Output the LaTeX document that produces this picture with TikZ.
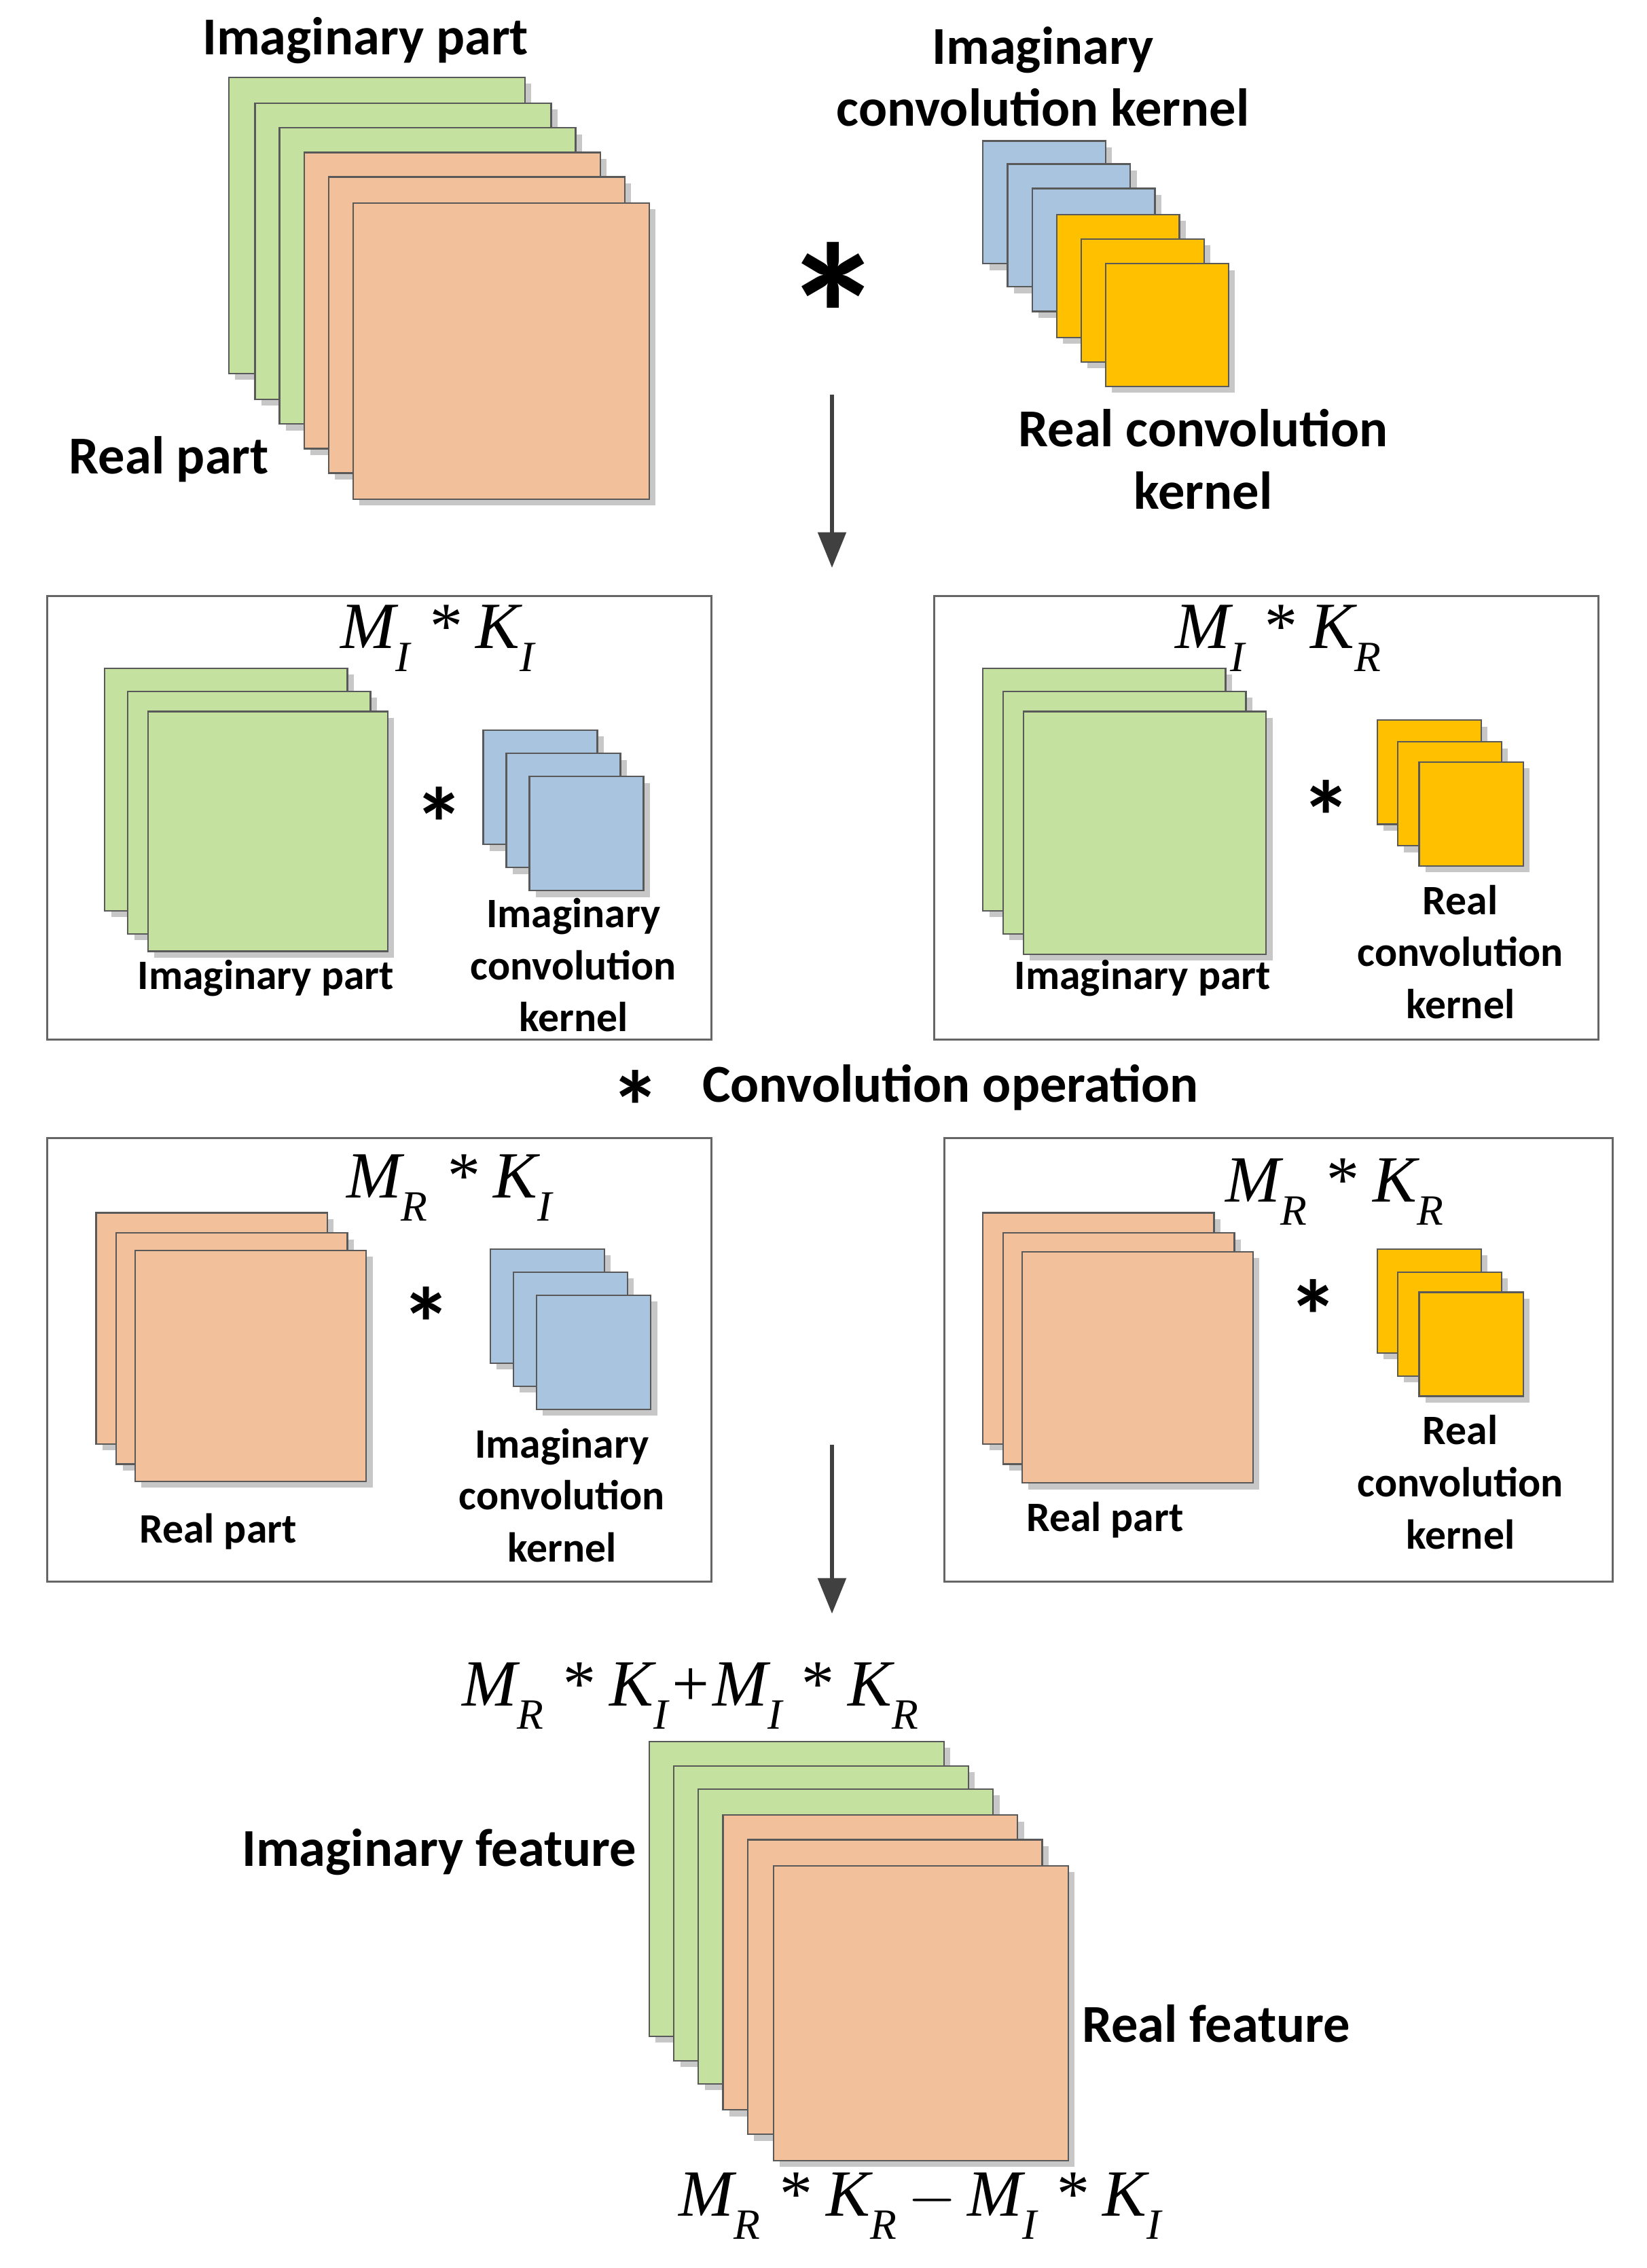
\documentclass[tikz,border=0pt]{standalone}
\usepackage{fontspec}
\setmainfont{Carlito}
\newfontfamily\mathf{Liberation Serif}
\usetikzlibrary{shadows,arrows.meta}
\definecolor{gr}{HTML}{C4E1A0}
\definecolor{orr}{HTML}{F2C09B}
\definecolor{bl}{HTML}{A8C4DE}
\definecolor{ye}{HTML}{FFC000}
\tikzset{
 sq/.style={draw=black!65, line width=0.6pt, anchor=north west, inner sep=0, minimum size=#1*0.02cm,
   drop shadow={shadow xshift=2.5pt,shadow yshift=-2.5pt,fill=black!22,opacity=1}},
 box/.style={draw=black!60, line width=0.8pt},
 lab/.style={font=\bfseries\fontsize{21}{24.5}\selectfont, align=center},
 slab/.style={font=\bfseries\fontsize{16.5}{20.5}\selectfont, align=center},
 mth/.style={font=\mathf\itshape\fontsize{26}{30}\selectfont},
 ast/.style={font=\bfseries\fontsize{40}{40}\selectfont},
 bigast/.style={font=\bfseries\fontsize{80}{80}\selectfont},
 arr/.style={line width=1.4pt, black!75, -{Triangle[length=14pt,width=11pt]}}
}
\newcommand{\sub}[1]{\raisebox{-0.35em}{\fontsize{17}{17}\selectfont #1}}
\begin{document}
\begin{tikzpicture}[x=0.02cm,y=-0.02cm]
\useasboundingbox (0,0) rectangle (1140,1570);
% top
\node[sq=205,fill=gr] (t1) at (158,53) {};
\node[sq=205,fill=gr] (t2) at (176,71) {};
\node[sq=205,fill=gr] (t3) at (193,88) {};
\node[sq=205,fill=orr] (t4) at (210,105) {};
\node[sq=205,fill=orr] (t5) at (227,122) {};
\node[sq=205,fill=orr] (t6) at (244,140) {};
\node[lab] (l1) at (253,28) {Imaginary part};
\node[lab] (l2) at (117,318) {Real part};
\node[bigast] (a0) at (577,218) {*};
\node[sq=85,fill=bl] (k1) at (680,97) {};
\node[sq=85,fill=bl] (k2) at (697,113) {};
\node[sq=85,fill=bl] (k3) at (714,130) {};
\node[sq=85,fill=ye] (k4) at (731,148) {};
\node[sq=85,fill=ye] (k5) at (748,165) {};
\node[sq=85,fill=ye] (k6) at (765,182) {};
\node[lab] (l3) at (722,53) {Imaginary\\convolution kernel};
\node[lab] (l4) at (833,318) {Real convolution\\kernel};
\coordinate (ar1) at (576,273); \coordinate (ar2) at (576,393);
\draw[arr] (ar1) -- (ar2);
% boxes
\node[box,anchor=north west,minimum width=460*0.02cm,minimum height=307*0.02cm] (b1) at (32,412) {};
\node[box,anchor=north west,minimum width=460*0.02cm,minimum height=307*0.02cm] (b2) at (646,412) {};
\node[box,anchor=north west,minimum width=460*0.02cm,minimum height=307*0.02cm] (b3) at (32,787) {};
\node[box,anchor=north west,minimum width=463*0.02cm,minimum height=307*0.02cm] (b4) at (653,787) {};
% box1
\node[sq=168,fill=gr] at (72,462) {};
\node[sq=168,fill=gr] at (88,478) {};
\node[sq=166,fill=gr] (g1) at (102,492) {};
\node[ast] (a1) at (304,570) {*};
\node[sq=79,fill=bl] at (334,505) {};
\node[sq=79,fill=bl] at (350,521) {};
\node[sq=79,fill=bl] at (366,537) {};
\node[mth] (m1) at (303,442) {M\sub{I} * K\sub{I}};
\node[slab] at (184,677) {Imaginary part};
\node[slab] at (397,668) {Imaginary\\convolution\\kernel};
% box2
\node[sq=168,fill=gr] at (680,462) {};
\node[sq=168,fill=gr] at (694,478) {};
\node[sq=168,fill=gr] at (708,492) {};
\node[ast] (a2) at (918,565) {*};
\node[sq=72,fill=ye] at (953,498) {};
\node[sq=72,fill=ye] at (967,513) {};
\node[sq=72,fill=ye] at (982,527) {};
\node[mth] (m2) at (885,442) {M\sub{I} * K\sub{R}};
\node[slab] at (791,677) {Imaginary part};
\node[slab] at (1011,659) {Real\\convolution\\kernel};
% legend
\node[ast] (a5) at (440,766) {*};
\node[lab,anchor=west] (leg) at (480,753) {Convolution operation};
% box3
\node[sq=160,fill=orr] at (66,839) {};
\node[sq=160,fill=orr] at (80,853) {};
\node[sq=160,fill=orr] at (93,865) {};
\node[ast] (a3) at (295,916) {*};
\node[sq=79,fill=bl] at (339,864) {};
\node[sq=79,fill=bl] at (355,880) {};
\node[sq=79,fill=bl] at (371,896) {};
\node[mth] (m3) at (311,822) {M\sub{R} * K\sub{I}};
\node[slab] at (151,1060) {Real part};
\node[slab] at (389,1035) {Imaginary\\convolution\\kernel};
% box4
\node[sq=160,fill=orr] at (680,839) {};
\node[sq=160,fill=orr] at (694,853) {};
\node[sq=160,fill=orr] at (707,866) {};
\node[ast] (a4) at (909,911) {*};
\node[sq=72,fill=ye] at (953,864) {};
\node[sq=72,fill=ye] at (967,880) {};
\node[sq=72,fill=ye] at (982,894) {};
\node[mth] (m4) at (924,825) {M\sub{R} * K\sub{R}};
\node[slab] at (765,1052) {Real part};
\node[slab] at (1011,1026) {Real\\convolution\\kernel};
\coordinate (ar3) at (576,1000); \coordinate (ar4) at (576,1117);
\draw[arr] (ar3) -- (ar4);
% bottom
\node[sq=204,fill=gr] at (449,1205) {};
\node[sq=204,fill=gr] at (466,1222) {};
\node[sq=204,fill=gr] at (483,1238) {};
\node[sq=204,fill=orr] at (500,1256) {};
\node[sq=204,fill=orr] at (517,1273) {};
\node[sq=204,fill=orr] at (535,1291) {};
\node[mth] at (478,1174) {M\sub{R} * K\sub{I}+M\sub{I} * K\sub{R}};
\node[mth] at (637,1527) {M\sub{R} * K\sub{R}\,$-$\,M\sub{I} * K\sub{I}};
\node[lab] at (304,1282) {Imaginary feature};
\node[lab] at (842,1401) {Real feature};
\end{tikzpicture}
\end{document}
